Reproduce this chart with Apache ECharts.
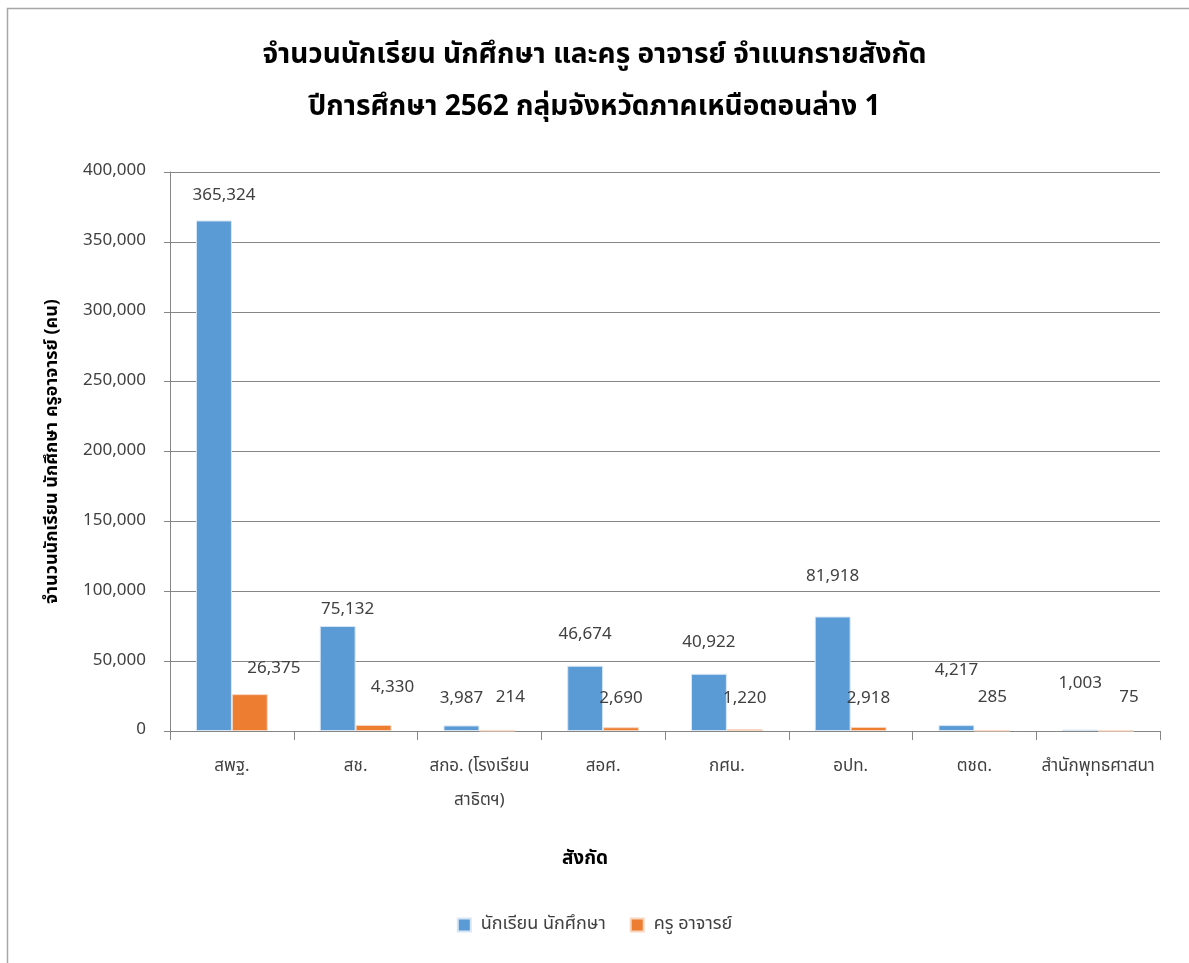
<!DOCTYPE html>
<html>
<head>
<meta charset="utf-8">
<script src="https://cdn.jsdelivr.net/npm/echarts@6/dist/echarts.min.js"></script>
<style>
html,body{margin:0;padding:0;background:#fff;}
#chart{width:1189px;height:963px;}
</style>
</head>
<body>
<div id="chart"></div>
<script>
var categories = ['สพฐ.', 'สช.', 'สกอ. (โรงเรียน\nสาธิตฯ)', 'สอศ.', 'กศน.', 'อปท.', 'ตชด.', 'สำนักพุทธศาสนา'];
var students = [365324, 75132, 3987, 46674, 40922, 81918, 4217, 1003];
var teachers = [26375, 4330, 214, 2690, 1220, 2918, 285, 75];
var seriesNames = ['นักเรียน นักศึกษา', 'ครู อาจารย์'];
var yTicks = [0, 50000, 100000, 150000, 200000, 250000, 300000, 350000, 400000];

// label offsets (style only)
var studentLabelShift = [[10,-10],[10,-2],[0,-12],[0,-17],[0,-17],[0,-25],[0,-40],[0,-32]];
var teacherLabelShift = [[24,-11],[19,-23],[13,-18],[0,-14],[0,-16],[0,-14],[0,-18],[13,-18]];

var FONT = '"Noto Sans Thai", Tahoma, "Noto Sans", sans-serif';
function fmt(v){ return v.toLocaleString('en-US'); }
function build(vals, shifts){
  return vals.map(function(v,i){ return {value:v, label:{offset:shifts[i]}}; });
}

var chart = echarts.init(document.getElementById('chart'));
chart.setOption({
  backgroundColor:'#fff',
  animation:false,
  textStyle:{fontFamily:FONT},
  title:{
    text:'จำนวนนักเรียน นักศึกษา และครู อาจารย์ จำแนกรายสังกัด\nปีการศึกษา 2562 กลุ่มจังหวัดภาคเหนือตอนล่าง 1',
    left:'center', top:26,
    textStyle:{fontFamily:FONT, fontSize:28, fontWeight:'bold', color:'#000', lineHeight:52}
  },
  legend:{
    bottom:24, left:'center',
    itemWidth:13, itemHeight:13, itemGap:24,
    icon:'rect',
    textStyle:{fontFamily:FONT, fontSize:18, color:'#404040', padding:[0,0,0,5]},
    data:seriesNames
  },
  grid:{left:170, right:29, top:172, bottom:232, containLabel:false},
  xAxis:{
    type:'category',
    data:categories,
    name:'สังกัด',
    nameLocation:'middle',
    nameGap:120,
    nameTextStyle:{fontFamily:FONT, fontSize:19, fontWeight:'bold', color:'#000', padding:[0,160,0,0]},
    axisLine:{lineStyle:{color:'#868686'}},
    axisTick:{show:true, alignWithLabel:false, length:9, lineStyle:{color:'#868686'}},
    axisLabel:{fontFamily:FONT, fontSize:17, color:'#404040', margin:20, lineHeight:34, interval:0}
  },
  yAxis:{
    type:'value',
    min:yTicks[0], max:yTicks[yTicks.length-1], interval:50000,
    name:'จำนวนนักเรียน นักศึกษา ครูอาจารย์ (คน)',
    nameLocation:'middle',
    nameGap:108,
    nameRotate:90,
    nameTextStyle:{fontFamily:FONT, fontSize:18, fontWeight:'bold', color:'#000'},
    axisLine:{show:true, lineStyle:{color:'#868686'}},
    axisTick:{show:true, length:6, lineStyle:{color:'#868686'}},
    splitLine:{lineStyle:{color:'#868686'}},
    axisLabel:{fontFamily:FONT, fontSize:17, color:'#404040', margin:24, formatter:function(v){return fmt(v);}}
  },
  series:[
    {
      name:seriesNames[0], type:'bar',
      data:build(students, studentLabelShift),
      barGap:'0%', barCategoryGap:'42%',
      itemStyle:{color:'#5B9BD5', borderColor:'#d6e6f5', borderWidth:1},
      label:{show:true, position:'top', fontFamily:FONT, fontSize:17, color:'#404040', formatter:function(p){return fmt(p.value);}}
    },
    {
      name:seriesNames[1], type:'bar',
      data:build(teachers, teacherLabelShift),
      itemStyle:{color:'#ED7D31', borderColor:'#f8d6c0', borderWidth:1},
      label:{show:true, position:'top', fontFamily:FONT, fontSize:17, color:'#404040', formatter:function(p){return fmt(p.value);}}
    }
  ],
  graphic:[{
    type:'rect', left:5, top:6, silent:true,
    shape:{width:1200, height:1000},
    style:{fill:'none', stroke:'#a6a6a6', lineWidth:1.5}
  }]
});
</script>
</body>
</html>
